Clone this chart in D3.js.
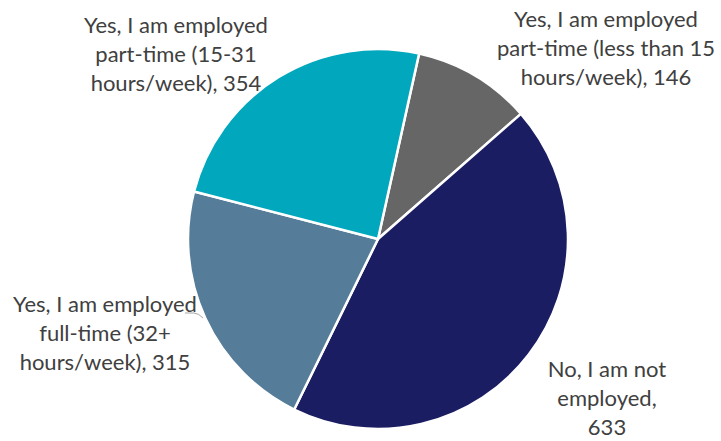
<!DOCTYPE html>
<html>
<head>
<meta charset="utf-8">
<script src="https://cdn.jsdelivr.net/npm/d3@7/dist/d3.min.js"></script>
<style>
  html, body { margin: 0; padding: 0; background: #fff; }
  svg { display: block; }
</style>
</head>
<body>
<svg id="chart" width="721" height="441"></svg>
<script>
// Employment status of respondents
const categories = [
  "Yes, I am employed part-time (less than 15 hours/week)",
  "No, I am not employed",
  "Yes, I am employed full-time (32+ hours/week)",
  "Yes, I am employed part-time (15-31 hours/week)"
];
const counts = [146, 633, 315, 354];
const colors = ["#666666", "#1b1d63", "#557c98", "#00a7bd"];
// Label text, one array of lines per slice
const labelLines = [
  ["Yes, I am employed", "part-time (less than 15", "hours/week), " + counts[0]],
  ["No, I am not", "employed,", String(counts[1])],
  ["Yes, I am employed", "full-time (32+", "hours/week), " + counts[2]],
  ["Yes, I am employed", "part-time (15-31", "hours/week), " + counts[3]]
];

const svg = d3.select("#chart");
const cx = 378, cy = 239, radius = 190;
const startRot = 12.5 * Math.PI / 180;

const pie = d3.pie()
  .sort(null)
  .value(d => d)
  .startAngle(startRot)
  .endAngle(startRot + 2 * Math.PI);

const arcs = pie(counts);
const arc = d3.arc().innerRadius(0).outerRadius(radius);

const g = svg.append("g").attr("transform", `translate(${cx},${cy})`);
g.selectAll("path.slice")
  .data(arcs)
  .join("path")
  .attr("class", "slice")
  .attr("d", arc)
  .attr("fill", (d, i) => colors[i])
  .attr("stroke", "#ffffff")
  .attr("stroke-width", 2.5)
  .attr("stroke-linejoin", "round");

// Label anchor points (centre of first baseline) for each slice
const labelPos = [
  { x: 606, y: 27 },
  { x: 607, y: 377 },
  { x: 105, y: 312 },
  { x: 176, y: 33 }
];
const lineHeight = 29;

const labels = svg.append("g")
  .attr("font-family", "Lato, 'Open Sans', sans-serif")
  .attr("font-size", 22)
  .attr("fill", "#404040")
  .attr("text-anchor", "middle");

labelLines.forEach((lines, i) => {
  const t = labels.append("text")
    .attr("x", labelPos[i].x)
    .attr("y", labelPos[i].y);
  lines.forEach((ln, j) => {
    t.append("tspan")
      .attr("x", labelPos[i].x)
      .attr("dy", j === 0 ? 0 : lineHeight)
      .text(ln);
  });
});

// Short leader line from the full-time label to its slice
svg.append("path")
  .attr("d", "M185,313 L194,313 Q199,313.5 203,318")
  .attr("fill", "none")
  .attr("stroke", "#a6a6a6")
  .attr("stroke-width", 1);
</script>
</body>
</html>
